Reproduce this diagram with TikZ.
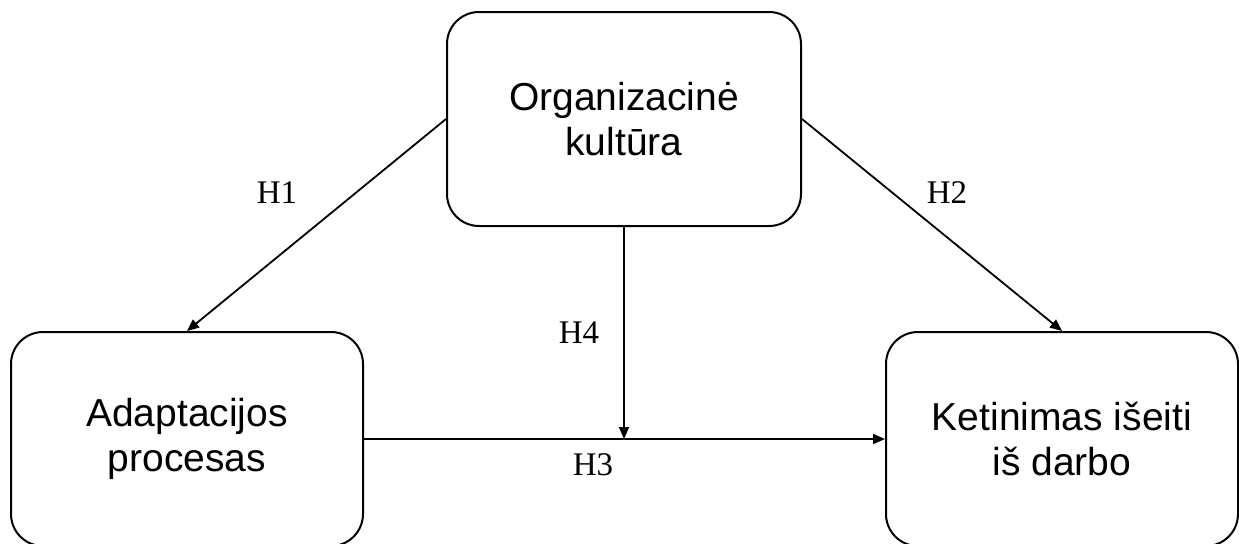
\documentclass[tikz,border=0pt]{standalone}
\usepackage{fontspec}
\setmainfont{Liberation Sans}
\newfontfamily\hypfont{Liberation Serif}
\usetikzlibrary{arrows.meta, positioning}

\begin{document}
\begin{tikzpicture}[x=0.5pt, y=-0.5pt,
    construct/.style={rectangle, rounded corners=16pt, draw=black, line width=1pt, minimum width=176pt, minimum height=107pt, align=center, font=\fontsize{19.5}{22.5}\selectfont},
    hyp/.style={font=\hypfont\fontsize{16.5}{18}\selectfont, inner sep=0pt},
    line/.style={draw, line width=0.9pt, -{Triangle[length=6pt, width=5pt]}}
]
\useasboundingbox (0,0) rectangle (1239,543);

% Constructs
\node[construct, minimum width=177pt] (culture) at (624,119) {Organizacinė\\kultūra};
\node[construct] (adapt) at (187,439) {Adaptacijos\\procesas};
\node[construct] (intent) at (1062,439) {Ketinimas išeiti\\iš darbo};
\coordinate (mod) at (culture.south |- adapt.east);

% Hypotheses
\path [line] (culture.west) -- (adapt.north);
\path [line] (culture.east) -- (intent.north);
\path [line] (adapt.east) -- (intent.west);
\path [line] (culture.south) -- (mod);

\node[hyp] (h1) at (277,193) {H1};
\node[hyp] (h2) at (947,193) {H2};
\node[hyp] (h4) at (579,333) {H4};
\node[hyp] (h3) at (593,465) {H3};

\end{tikzpicture}
\end{document}
